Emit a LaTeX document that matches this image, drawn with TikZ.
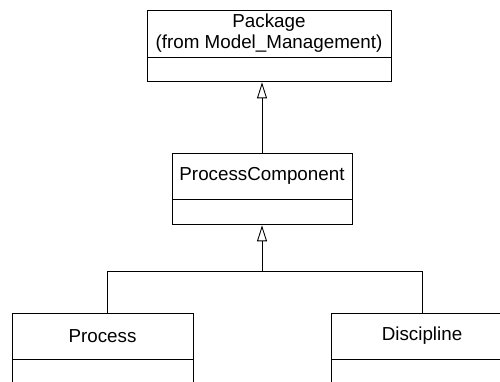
\documentclass[tikz,border=0pt]{standalone}
\usepackage{fontspec}
\setmainfont{Liberation Sans}
\usetikzlibrary{arrows.meta,positioning}
\begin{document}
\begin{tikzpicture}[x=1pt,y=1pt,
  line width=0.9pt,
  namebox/.style={draw, rectangle, inner sep=0pt, align=center,
    font=\fontsize{18.8}{21}\selectfont},
  attrbox/.style={draw, rectangle, inner sep=0pt},
  gen/.style={-{Triangle[open,length=16pt,width=10pt,fill=white]}},
  link/.style={line cap=rect}]
\useasboundingbox (0,0) rectangle (500,-381);
\clip (0,0) rectangle (500,-381);

% Package class
\node[namebox, minimum width=244, minimum height=47] (pkg) at (269,-33.5)
  {Package\\(from Model\_Management)};
\node[attrbox, minimum width=244, minimum height=24, below=0pt of pkg] (pkgA) {};

% ProcessComponent class
\node[namebox, minimum width=180, minimum height=46] (pc) at (262,-176)
  {ProcessComponent};
\node[attrbox, minimum width=180, minimum height=25, below=0pt of pc] (pcA) {};

% Process class
\node[namebox, minimum width=181, minimum height=46] (proc) at (102.5,-336)
  {Process};
\node[attrbox, minimum width=181, minimum height=30, below=0pt of proc] (procA) {};

% Discipline class
\node[namebox, minimum width=182, minimum height=46] (disc) at (422,-336)
  {Discipline};
\node[attrbox, minimum width=182, minimum height=30, below=0pt of disc] (discA) {};

% generalisation: ProcessComponent -> Package
\draw[gen] (pc.north) -- (pc.north |- pkgA.south);

% generalisation: Process, Discipline -> ProcessComponent
\coordinate (joint) at (262,-271);
\coordinate (jl) at (107,-271);
\coordinate (jr) at (422,-271);
\draw[gen] (joint) -- (joint |- pcA.south);
\draw (proc.north -| jl) -- (jl) -- (jr) -- (disc.north -| jr);
\end{tikzpicture}
\end{document}
